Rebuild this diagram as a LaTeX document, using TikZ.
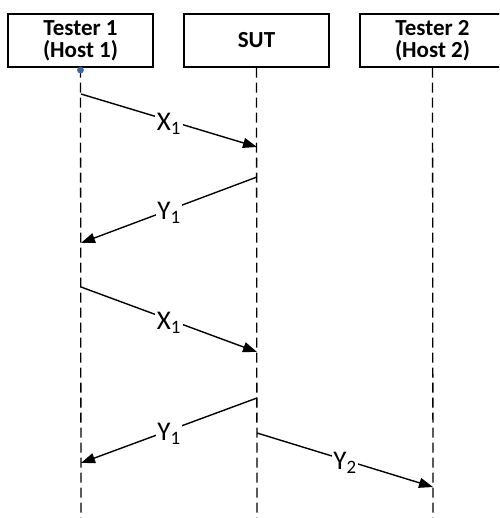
\documentclass[tikz,border=0pt]{standalone}
\usepackage{fontspec}
\setmainfont{Carlito}
\usetikzlibrary{arrows.meta}
\definecolor{anchorblue}{RGB}{60,105,165}
\begin{document}
\begin{tikzpicture}[x=1pt,y=-1pt,
  actor/.style={draw,line width=1.1pt,minimum width=145pt,minimum height=53pt,
    font=\bfseries\fontsize{23}{22}\selectfont,align=center,inner sep=0pt},
  lifeline/.style={line width=1.3pt,dash pattern=on 10pt off 5pt},
  msg/.style={line width=1.4pt,-{Triangle[length=14pt,width=10pt]}},
  lbl/.style={fill=white,inner sep=1.5pt,yshift=-3pt,font=\fontsize{27}{29}\selectfont}]
  \useasboundingbox (0,0) rectangle (499,518);
  \begin{scope}
  \clip (0,0) rectangle (499,518);
  % participants
  \node[actor] (t1) at (80.5,40.5) {\rule{0pt}{3pt}Tester 1\\(Host 1)};
  \node[actor] (sut) at (256.5,40.5) {SUT};
  \node[actor] (t2) at (432.5,40.5) {\rule{0pt}{3pt}Tester 2\\(Host 2)};
  % lifelines
  \coordinate (e1) at (81,518);
  \coordinate (e2) at (257,518);
  \coordinate (e3) at (433,518);
  \draw[lifeline] (t1.south) -- (e1);
  \draw[lifeline] (sut.south) -- (e2);
  \draw[lifeline] (t2.south) -- (e3);
  \fill[anchorblue] ([yshift=-2.5pt]t1.south) circle (3.4pt);
  % message end points
  \coordinate (a1) at (81,94);   \coordinate (b1) at (257,147);
  \coordinate (a2) at (257,177); \coordinate (b2) at (81,243);
  \coordinate (a3) at (81,287);  \coordinate (b3) at (257,352);
  \coordinate (a4) at (257,398); \coordinate (b4) at (81,463);
  \coordinate (a5) at (257,433); \coordinate (b5) at (433,487);
  % messages
  \draw[msg] (a1) -- node[lbl] {X\textsubscript{1}} (b1);
  \draw[msg] (a2) -- node[lbl] {Y\textsubscript{1}} (b2);
  \draw[msg] (a3) -- node[lbl] {X\textsubscript{1}} (b3);
  \draw[msg] (a4) -- node[lbl] {Y\textsubscript{1}} (b4);
  \draw[msg] (a5) -- node[lbl] {Y\textsubscript{2}} (b5);
  \end{scope}
\end{tikzpicture}
\end{document}
